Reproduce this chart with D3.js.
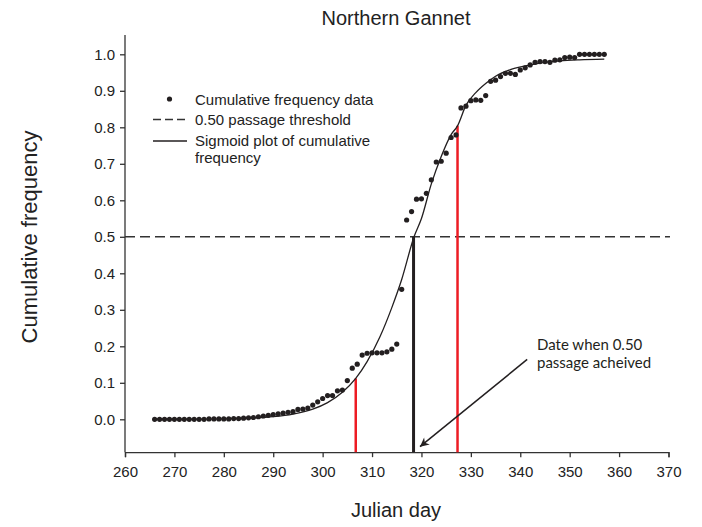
<!DOCTYPE html>
<html>
<head>
<meta charset="utf-8">
<script src="https://cdn.jsdelivr.net/npm/d3@7"></script>
<style>
  body { margin: 0; background: #fff; }
  svg { display: block; font-family: 'Liberation Sans', Arial, sans-serif; }
</style>
</head>
<body>
<svg id="chart" width="702" height="527"></svg>
<script>
// observed cumulative frequency, one dot per julian day
const days = [
  266, 267, 268, 269, 270, 271, 272, 273, 274, 275, 276, 277, 278, 279, 280, 281,
  282, 283, 284, 285, 286, 287, 288, 289, 290, 291, 292, 293, 294, 295, 296, 297,
  298, 299, 300, 301, 302, 303, 304, 305, 306, 307, 308, 309, 310, 311, 312, 313,
  314, 315, 316, 317, 318, 319, 320, 321, 322, 323, 324, 325, 326, 327, 328, 329,
  330, 331, 332, 333, 334, 335, 336, 337, 338, 339, 340, 341, 342, 343, 344, 345,
  346, 347, 348, 349, 350, 351, 352, 353, 354, 355, 356, 357,
];
const freq = [
  0, 0, 0, 0, 0, 0, 0, 0, 0, 0, 0, 0.001, 0.001, 0.001, 0.001, 0.001,
  0.002, 0.002, 0.003, 0.004, 0.005, 0.007, 0.009, 0.011, 0.013, 0.015, 0.017, 0.019, 0.021, 0.027, 0.028, 0.031,
  0.039, 0.048, 0.057, 0.065, 0.065, 0.078, 0.08, 0.106, 0.14, 0.151, 0.176, 0.181, 0.182, 0.182, 0.182, 0.185,
  0.192, 0.206, 0.356, 0.546, 0.569, 0.603, 0.604, 0.619, 0.656, 0.705, 0.707, 0.729, 0.772, 0.779, 0.853, 0.858,
  0.873, 0.875, 0.874, 0.887, 0.926, 0.929, 0.939, 0.948, 0.948, 0.945, 0.957, 0.963, 0.971, 0.978, 0.98, 0.98,
  0.978, 0.984, 0.985, 0.991, 0.992, 0.991, 1, 1, 1, 1, 1, 1,
];

// fitted sigmoid
const sigDays = [266, 275, 280, 285, 290, 294, 298, 301, 304, 306.7, 309, 311.6, 314, 316, 318.5,
  320, 322, 324, 326, 327.3, 329, 331, 333, 335, 338, 341, 344, 348, 352, 357];
const sigFreq = [0.0003, 0.0006, 0.0013, 0.0031, 0.0072, 0.0142, 0.0278, 0.0456, 0.074, 0.112, 0.158, 0.226, 0.306, 0.383, 0.5,
  0.55, 0.645, 0.72, 0.78, 0.804, 0.86, 0.895, 0.92, 0.94, 0.958, 0.968, 0.976, 0.982, 0.985, 0.987];

// drop lines: 0.10-ish start, 0.50 passage, 0.80 end
const dropDays = [306.7, 318.4, 327.3];
const dropFreq = [0.112, 0.5, 0.804];
const dropKind = ['red', 'black', 'red'];

const xTicks = [260, 270, 280, 290, 300, 310, 320, 330, 340, 350, 360, 370];
const yTicks = [0, 0.1, 0.2, 0.3, 0.4, 0.5, 0.6, 0.7, 0.8, 0.9, 1.0];
const threshold = 0.5;

// annotation arrow (start, tip) in data units
const arrowFrom = [341.4, 0.164];
const arrowTo = [319.7, -0.075];

const svg = d3.select('#chart');
const ink = '#231f20';

const x = d3.scaleLinear().domain([260, 370]).range([125, 668.5]);
const y = d3.scaleLinear().domain([0, 1]).range([419.3, 54.3]);
const yMin = -0.09;
const yMax = 1.053;

svg.append('defs').append('marker')
  .attr('id', 'head')
  .attr('viewBox', '0 0 10 10')
  .attr('refX', 10)
  .attr('refY', 5)
  .attr('markerWidth', 12)
  .attr('markerHeight', 9)
  .attr('markerUnits', 'userSpaceOnUse')
  .attr('orient', 'auto')
  .append('path')
  .attr('d', 'M0,0 L10,5 L0,10 L3,5 Z')
  .attr('fill', ink);

// axes
const xAxis = svg.append('g')
  .attr('transform', `translate(0,${y(yMin)})`)
  .call(d3.axisBottom(x).tickValues(xTicks).tickSize(5).tickPadding(9).tickFormat(d3.format('d')));
const yAxis = svg.append('g')
  .attr('transform', `translate(${x(260)},0)`)
  .call(d3.axisLeft(y).tickValues(yTicks).tickSize(5).tickPadding(5).tickFormat(d3.format('.1f')));
yAxis.select('.domain').attr('d', `M0,${y(yMin)}V${y(yMax)}`);

[xAxis, yAxis].forEach((g) => {
  g.select('.domain').attr('stroke', '#333').attr('stroke-width', 1.3);
  g.selectAll('.tick line').attr('stroke', '#333').attr('stroke-width', 1.3);
  g.selectAll('.tick text')
    .attr('fill', '#222')
    .style('font-size', '15px')
    .style('font-family', "'Liberation Sans', Arial, sans-serif");
});

// threshold
svg.append('line')
  .attr('x1', x(260)).attr('x2', x(370.3))
  .attr('y1', y(threshold)).attr('y2', y(threshold))
  .attr('stroke', '#333')
  .attr('stroke-width', 1.5)
  .attr('stroke-dasharray', '10,5');

// drop lines
svg.append('g').selectAll('line')
  .data(dropDays)
  .join('line')
  .attr('x1', (d) => x(d)).attr('x2', (d) => x(d))
  .attr('y1', (d, i) => y(dropFreq[i]))
  .attr('y2', y(yMin))
  .attr('stroke', (d, i) => (dropKind[i] === 'red' ? '#ed1c24' : ink))
  .attr('stroke-width', (d, i) => (dropKind[i] === 'red' ? 2.5 : 3));

// sigmoid curve
const line = d3.line()
  .x((d, i) => x(sigDays[i]))
  .y((d) => y(d))
  .curve(d3.curveMonotoneX);
svg.append('path')
  .datum(sigFreq)
  .attr('fill', 'none')
  .attr('stroke', ink)
  .attr('stroke-width', 1.3)
  .attr('d', line);

// data dots
svg.append('g').selectAll('circle')
  .data(freq)
  .join('circle')
  .attr('cx', (d, i) => x(days[i]))
  .attr('cy', (d) => y(d))
  .attr('r', 2.6)
  .attr('fill', ink);

// arrow + note
svg.append('line')
  .attr('x1', x(arrowFrom[0])).attr('y1', y(arrowFrom[1]))
  .attr('x2', x(arrowTo[0])).attr('y2', y(arrowTo[1]))
  .attr('stroke', ink)
  .attr('stroke-width', 1.5)
  .attr('marker-end', 'url(#head)');

const note = svg.append('text')
  .attr('x', 537)
  .attr('y', 350)
  .attr('fill', ink)
  .style('font-family', 'Lato, sans-serif')
  .style('font-size', '15px');
note.append('tspan').attr('x', 537).attr('dy', 0).text('Date when 0.50');
note.append('tspan').attr('x', 537).attr('dy', 18).text('passage acheived');

// legend
const legend = svg.append('g').attr('fill', '#222').style('font-size', '15px');
legend.append('circle').attr('cx', 169.5).attr('cy', 99).attr('r', 2.6).attr('fill', ink);
legend.append('line')
  .attr('x1', 153).attr('x2', 187).attr('y1', 119.5).attr('y2', 119.5)
  .attr('stroke', '#333').attr('stroke-width', 1.5).attr('stroke-dasharray', '8,4');
legend.append('line')
  .attr('x1', 153).attr('x2', 187).attr('y1', 141).attr('y2', 141)
  .attr('stroke', ink).attr('stroke-width', 1.3);
legend.append('text').attr('x', 195).attr('y', 104.5).text('Cumulative frequency data');
legend.append('text').attr('x', 195).attr('y', 124.5).text('0.50 passage threshold');
legend.append('text').attr('x', 195).attr('y', 146).text('Sigmoid plot of cumulative');
legend.append('text').attr('x', 195).attr('y', 163).text('frequency');

// titles
svg.append('text')
  .attr('x', 396).attr('y', 25)
  .attr('text-anchor', 'middle')
  .attr('fill', '#222')
  .style('font-size', '20px')
  .text('Northern Gannet');
svg.append('text')
  .attr('x', 396).attr('y', 517)
  .attr('text-anchor', 'middle')
  .attr('fill', '#222')
  .style('font-size', '20px')
  .text('Julian day');
svg.append('text')
  .attr('transform', 'translate(37,237) rotate(-90)')
  .attr('text-anchor', 'middle')
  .attr('fill', '#222')
  .style('font-size', '22px')
  .text('Cumulative frequency');
</script>
</body>
</html>
